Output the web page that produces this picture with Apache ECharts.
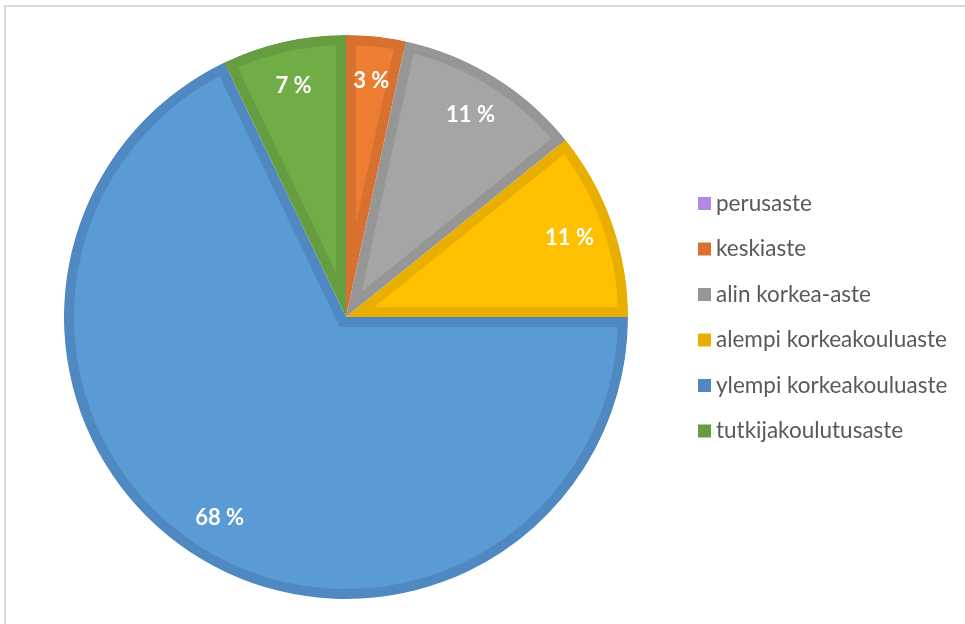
<!DOCTYPE html>
<html>
<head>
<meta charset="utf-8">
<script src="https://cdn.jsdelivr.net/npm/echarts@6/dist/echarts.min.js"></script>
<style>
  html, body { margin: 0; padding: 0; background: #fff; }
  #chart { width: 965px; height: 624px; }
  #frame { position: absolute; left: 4px; top: 5px; width: 2000px; height: 2000px;
           border: 2px solid #d9d9d9; pointer-events: none; }
</style>
</head>
<body>
<div id="chart"></div>
<div id="frame"></div>
<script>
// koulutusasteet ja osuudet (%)
var categories = ['perusaste', 'keskiaste', 'alin korkea-aste', 'alempi korkeakouluaste', 'ylempi korkeakouluaste', 'tutkijakoulutusaste'];
var shares = [0, 3.4, 10.8, 10.8, 67.9, 7.1];

var fillColors = ['#C49BF0', '#ED7D31', '#A5A5A5', '#FFC000', '#5B9BD5', '#70AD47'];
var edgeColors = ['#B487E6', '#D87130', '#969696', '#E8AE00', '#5089C2', '#659D40'];

var chart = echarts.init(document.getElementById('chart'));

var cx = 346, cy = 317;
var R = 282;      // piirakan säde
var band = 10;    // tummemman reunan leveys
var clear = 'rgba(0,0,0,0)';

function buildData(colorFn) {
    return categories.map(function (name, i) {
        return { name: name, value: shares[i], itemStyle: { color: colorFn(i) } };
    });
}

function baseSeries(extra) {
    var s = {
        type: 'pie',
        center: [cx, cy],
        startAngle: 90,
        silent: true,
        label: { show: false },
        labelLine: { show: false },
        itemStyle: { borderWidth: 0 },
        emphasis: { disabled: true }
    };
    for (var k in extra) s[k] = extra[k];
    return s;
}

var series = [];

// tumma pohja
series.push(baseSeries({
    radius: R,
    data: buildData(function (i) { return edgeColors[i]; })
}));

// vaaleat sisäosat: jokainen sektori siirretään puolittajaa pitkin sisään
var total = shares.reduce(function (a, b) { return a + b; }, 0);
var cum = 0;
shares.forEach(function (v, i) {
    var startDeg = cum / total * 360;
    cum += v;
    if (!v) return;
    var half = v / total * Math.PI;
    var mid = (startDeg * Math.PI / 180) + half;
    var shift = band / Math.sin(half);
    var D = R - band + 1;
    var r = -shift * Math.cos(half) + Math.sqrt(D * D - band * band);
    series.push(baseSeries({
        center: [cx + shift * Math.sin(mid), cy - shift * Math.cos(mid)],
        radius: r,
        data: buildData(function (j) { return j === i ? fillColors[j] : clear; })
    }));
});

// ulkoreunan tumma kaari
series.push(baseSeries({
    radius: [R - band, R],
    data: buildData(function (i) { return edgeColors[i]; })
}));

// valkoinen rengas ylivuodon peittämiseen
series.push(baseSeries({
    radius: [R, R + 20],
    data: buildData(function () { return '#fff'; })
}));

// arvojen tekstit
series.push(baseSeries({
    radius: [208, 260],
    itemStyle: { color: clear, borderWidth: 0 },
    label: {
        show: true,
        position: 'inside',
        color: '#fff',
        fontFamily: 'Lato',
        fontWeight: 'bold',
        fontSize: 22,
        formatter: function (p) {
            return p.value ? Math.round(p.percent) + ' %' : '';
        }
    },
    data: categories.map(function (name, i) {
        return { name: name, value: shares[i] };
    })
}));

var option = {
    animation: false,
    legend: {
        orient: 'vertical',
        left: 698,
        top: 192,
        padding: 0,
        itemWidth: 13,
        itemHeight: 13,
        itemGap: 22.5,
        icon: 'rect',
        selectedMode: false,
        textStyle: { fontFamily: 'Lato', fontSize: 22.5, color: '#595959' },
        data: categories.map(function (name, i) {
            return { name: name, itemStyle: { color: edgeColors[i] } };
        })
    },
    series: series
};

chart.setOption(option);
</script>
</body>
</html>
